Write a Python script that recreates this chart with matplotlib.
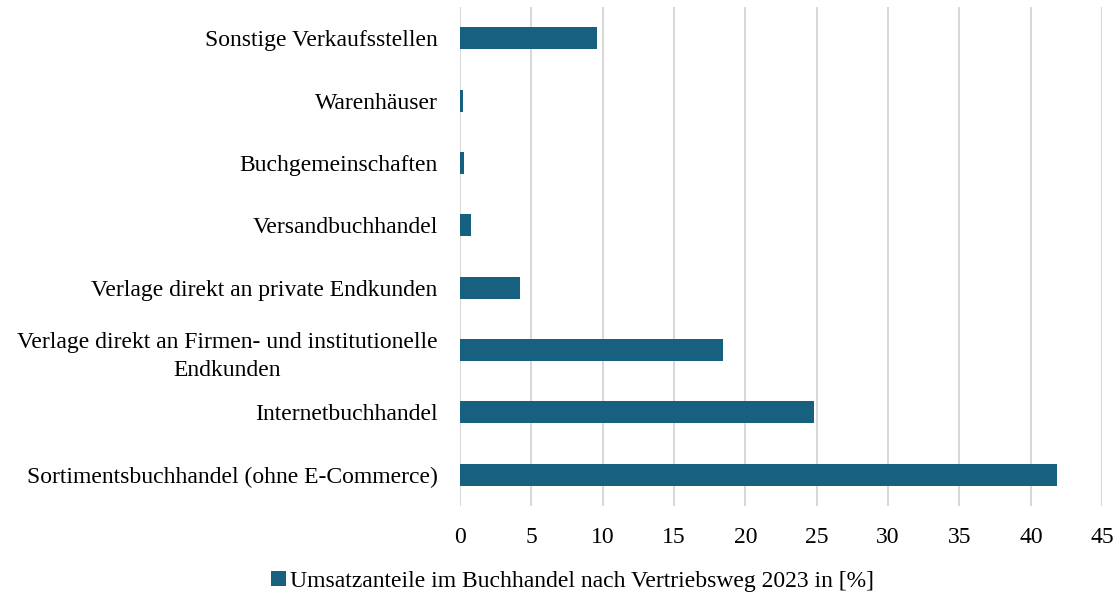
import matplotlib.pyplot as plt

categories = [
    'Sortimentsbuchhandel (ohne E-Commerce)',
    'Internetbuchhandel',
    'Verlage direkt an Firmen- und institutionelle\nEndkunden',
    'Verlage direkt an private Endkunden',
    'Versandbuchhandel',
    'Buchgemeinschaften',
    'Warenhäuser',
    'Sonstige Verkaufsstellen',
]
values = [41.8, 24.8, 18.4, 4.2, 0.8, 0.3, 0.2, 9.6]
series_name = 'Umsatzanteile im Buchhandel nach Vertriebsweg 2023 in [%]'

plt.rcParams['font.family'] = ['Liberation Serif', 'DejaVu Serif']

fig = plt.figure(figsize=(11.19, 5.98), dpi=100)
ax = fig.add_axes([0.411, 0.154, 0.574, 0.834])

y = range(len(categories))
ax.barh(y, values, height=0.35, color='#17607f', label=series_name, zorder=3)

ax.set_xlim(0, 45)
ax.set_ylim(-0.5, len(categories) - 0.5)
ax.set_xticks(range(0, 46, 5))
ax.set_yticks(list(y))
ax.set_yticklabels(categories, multialignment='center', linespacing=1.45)
ax.tick_params(axis='both', length=0, labelsize=17)
ax.tick_params(axis='y', pad=16)
ax.tick_params(axis='x', pad=15)
ax.grid(axis='x', color='#d9d9d9', linewidth=1.5, zorder=0)
for s in ax.spines.values():
    s.set_visible(False)

fig.legend(loc='center', bbox_to_anchor=(0.512, 0.028), frameon=False,
           fontsize=17, handlelength=0.6, handleheight=0.6, handletextpad=0.2)

fig.savefig('out.png', dpi=100)
